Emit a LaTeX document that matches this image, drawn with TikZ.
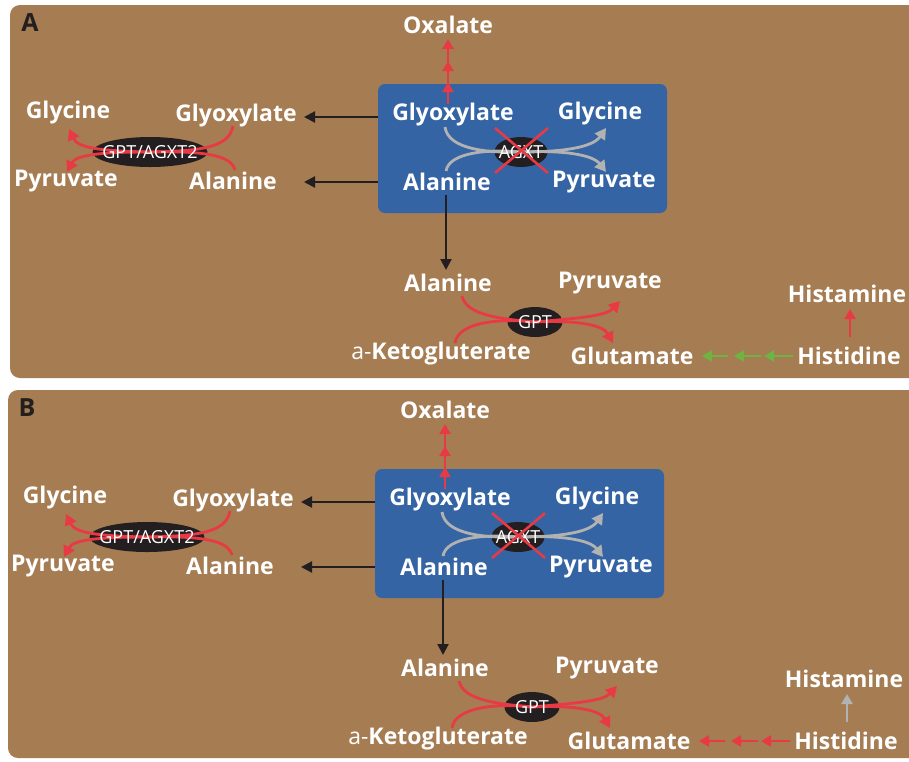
\documentclass[tikz,border=0pt]{standalone}
\usepackage{fontspec}
\setmainfont{Open Sans}
\usetikzlibrary{arrows.meta,shapes.geometric}
\definecolor{brownbg}{RGB}{166,124,82}
\definecolor{bluebox}{RGB}{52,100,164}
\definecolor{redar}{RGB}{232,58,68}
\definecolor{grayar}{RGB}{178,178,178}
\definecolor{greenar}{RGB}{110,180,66}
\definecolor{darkar}{RGB}{35,31,32}
\tikzset{
  lbl/.style={text=white, font=\bfseries\fontsize{23}{23}\selectfont, inner sep=0pt},
  panlbl/.style={text=darkar, font=\bfseries\fontsize{25}{25}\selectfont, inner sep=0pt},
  enzbg/.style={ellipse, fill=darkar, inner sep=0pt},
  enztxt/.style={text=white, font=\fontsize{18}{18}\selectfont, inner sep=0pt},
  bluebx/.style={fill=bluebox, rounded corners=7pt, inner sep=0pt, minimum width=289pt, minimum height=129pt},
  curv/.style={line width=2.8pt, -{Triangle[length=11pt,width=12pt]}},
  shortar/.style={line width=2.6pt, -{Triangle[length=10pt,width=11pt]}},
  blkar/.style={draw=darkar, line width=2.2pt, -{Triangle[length=11pt,width=11pt]}},
  xline/.style={draw=redar, line width=2.6pt}
}
\newcommand{\drawpanel}[5]{%
\begin{scope}[shift={(#2,#3)}]
  \node[panlbl] (lab#1) at (30,23) {#1};
  \node[lbl] (oxa#1) at (448,25) {Oxalate};
  \node[bluebx] (box#1) at (522.5,148.5) {};
  % inside box
  \node[lbl] (glyIn#1) at (453,115) {Glyoxylate};
  \node[lbl] (glcIn#1) at (600,114) {Glycine};
  \node[lbl] (alaIn#1) at (447,182) {Alanine};
  \node[lbl] (pyrIn#1) at (604,182) {Pyruvate};
  \node[enzbg, minimum width=53pt, minimum height=30pt] (agxt#1) at (521,152) {};
  \coordinate (g1#1) at (445,127);
  \coordinate (g2#1) at (606,128);
  \coordinate (g3#1) at (446,171);
  \coordinate (g4#1) at (606,172);
  \draw[curv, draw=grayar, color=grayar] (g1#1) .. controls (448,150) and (490,153) .. (agxt#1.center) .. controls (565,152) and (593,147) .. (g2#1);
  \draw[curv, draw=grayar, color=grayar] (g3#1) .. controls (449,152) and (490,149) .. (agxt#1.center) .. controls (565,150) and (593,155) .. (g4#1);
  \node[enztxt] (agxtT#1) at (agxt#1) {AGXT};
  \draw[xline] (495,128) -- (548,173);
  \draw[xline] (548,128) -- (495,173);
  % oxalate arrows
  \coordinate (o0#1) at (448,104);
  \coordinate (o1#1) at (448,82);
  \coordinate (o2#1) at (448,61);
  \coordinate (o3#1) at (448,39);
  \draw[shortar, draw=redar, color=redar] (o0#1) -- (o1#1);
  \draw[shortar, draw=redar, color=redar] ([yshift=-1pt]o1#1) -- (o2#1);
  \draw[shortar, draw=redar, color=redar] ([yshift=-1pt]o2#1) -- (o3#1);
  % left reaction
  \node[lbl] (glyL#1) at (236,116) {Glyoxylate};
  \node[lbl] (glcL#1) at (68,113) {Glycine};
  \node[lbl] (alaL#1) at (233,181) {Alanine};
  \node[lbl] (pyrL#1) at (66,181) {Pyruvate};
  \node[enzbg, minimum width=115pt, minimum height=30pt] (gpt2#1) at (150,152) {};
  \coordinate (l1#1) at (233,126);
  \coordinate (l2#1) at (69,129);
  \coordinate (l3#1) at (235,170);
  \coordinate (l4#1) at (67,172);
  \draw[curv, draw=redar, color=redar] (l1#1) .. controls (229,148) and (200,151) .. (gpt2#1.center) .. controls (100,151) and (78,148) .. (l2#1);
  \draw[curv, draw=redar, color=redar] (l3#1) .. controls (231,154) and (200,151) .. (gpt2#1.center) .. controls (100,152) and (76,155) .. (l4#1);
  \node[enztxt] (gpt2T#1) at (gpt2#1) {GPT/AGXT2};
  % black arrows
  \draw[blkar] (box#1.west |- glyIn#1.center) ++(0,2) -- (304,117);
  \draw[blkar] (box#1.west |- alaIn#1.center) -- (304,182);
  % GPT reaction
  \node[lbl] (alaG#1) at (448,283) {Alanine};
  \node[lbl] (pyrG#1) at (610,283) {Pyruvate};
  \node[lbl] (akg#1) at (441,354) {{\mdseries a-}Ketogluterate};
  \node[lbl] (gluG#1) at (632,356) {Glutamate};
  \draw[blkar] (446,195) -- (446,270);
  \node[enzbg, minimum width=55pt, minimum height=30pt] (gpt#1) at (535,322) {};
  \coordinate (p1#1) at (462,296);
  \coordinate (p2#1) at (620,301);
  \coordinate (p3#1) at (455,343);
  \coordinate (p4#1) at (613,343);
  \draw[curv, draw=redar, color=redar] (p1#1) .. controls (466,315) and (500,319) .. (gpt#1.center) .. controls (580,318) and (606,316) .. (p2#1);
  \draw[curv, draw=redar, color=redar] (p3#1) .. controls (458,322) and (500,318) .. (gpt#1.center) .. controls (578,320) and (603,325) .. (p4#1);
  \node[enztxt] (gptT#1) at (gpt#1) {GPT};
  % histidine
  \node[lbl] (hsm#1) at (847,294) {Histamine};
  \node[lbl] (hsd#1) at (849,356) {Histidine};
  \draw[shortar, draw=#4, color=#4] ([yshift=10pt]hsd#1.north -| 850,0) -- ([yshift=-6pt]hsm#1.south -| 850,0);
  \coordinate (h0#1) at (793,356);
  \coordinate (h1#1) at (764,356);
  \coordinate (h2#1) at (734,356);
  \coordinate (h3#1) at (702,356);
  \draw[shortar, draw=#5, color=#5] (h0#1) -- (h1#1);
  \draw[shortar, draw=#5, color=#5] ([xshift=-3pt]h1#1) -- (h2#1);
  \draw[shortar, draw=#5, color=#5] ([xshift=-6pt]h2#1) -- (h3#1);
\end{scope}}
\begin{document}
\begin{tikzpicture}[x=1pt,y=-1pt]
  \useasboundingbox (0,0) rectangle (909,761);
  \fill[white] (0,0) rectangle (909,761);
  \fill[brownbg, rounded corners=10pt] (10,5) rectangle (930,378);
  \fill[brownbg, rounded corners=10pt] (8,390) rectangle (930,758);
  \drawpanel{A}{0}{0}{redar}{greenar}
  \drawpanel{B}{-3}{385}{grayar}{redar}
\end{tikzpicture}
\end{document}
